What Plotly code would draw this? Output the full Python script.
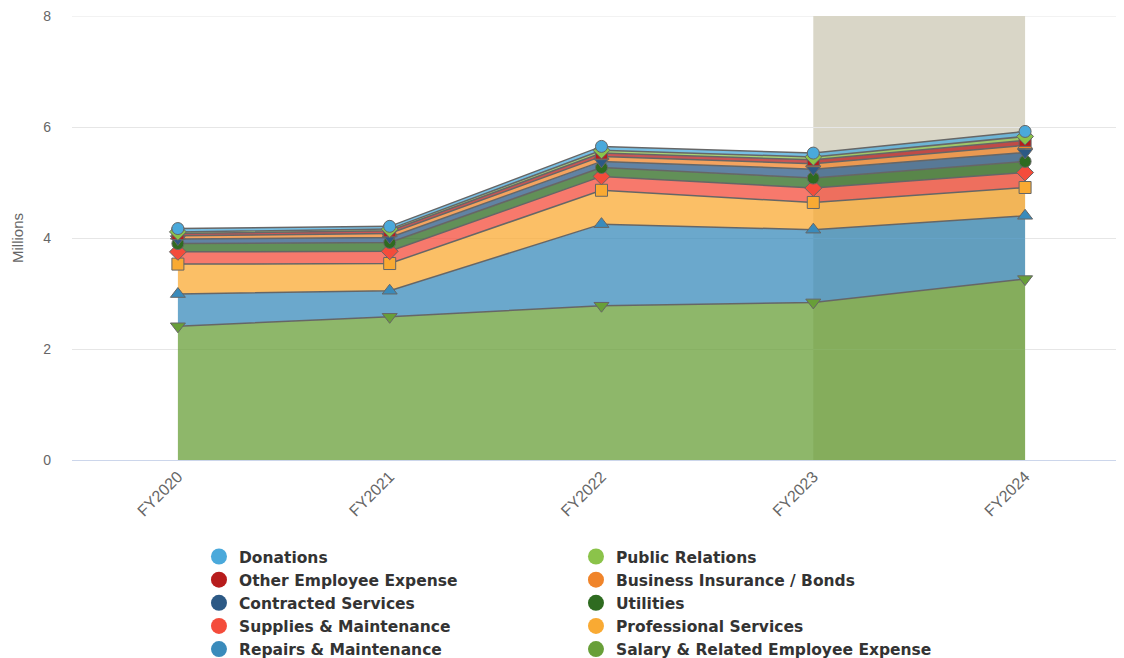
import plotly.graph_objects as go

years = ["FY2020", "FY2021", "FY2022", "FY2023", "FY2024"]

# Series (bottom of stack first), values in millions
salary = [2.41, 2.58, 2.78, 2.84, 3.26]
repairs = [0.58, 0.47, 1.47, 1.31, 1.14]
professional = [0.54, 0.49, 0.61, 0.49, 0.51]
supplies = [0.22, 0.22, 0.25, 0.26, 0.27]
utilities = [0.15, 0.16, 0.16, 0.18, 0.20]
contracted = [0.08, 0.09, 0.11, 0.16, 0.16]
business_ins = [0.06, 0.07, 0.09, 0.10, 0.13]
other_emp = [0.04, 0.05, 0.06, 0.07, 0.09]
public_rel = [0.03, 0.03, 0.05, 0.05, 0.07]
donations = [0.06, 0.05, 0.07, 0.07, 0.09]

names = ["Donations", "Public Relations", "Other Employee Expense",
         "Business Insurance / Bonds", "Contracted Services", "Utilities",
         "Supplies & Maintenance", "Professional Services",
         "Repairs & Maintenance", "Salary & Related Employee Expense"]
values = [donations, public_rel, other_emp, business_ins, contracted,
          utilities, supplies, professional, repairs, salary]
colors = ["#4aa9db", "#8bc34a", "#b71c1c", "#f0842a", "#2c5985",
          "#2e6b20", "#f44c3b", "#f9aa33", "#3a8bbb", "#689f38"]
symbols = ["circle", "diamond", "square", "triangle-up", "triangle-down",
           "circle", "diamond", "square", "triangle-up", "triangle-down"]
sizes = {"circle": 12, "diamond": 13, "square": 12,
         "triangle-up": 13, "triangle-down": 13}

y_ticks = [0, 2, 4, 6, 8]
band_start, band_end = 3, 4

def rgba(hexc, a):
    h = hexc.lstrip("#")
    r, g, b = int(h[0:2], 16), int(h[2:4], 16), int(h[4:6], 16)
    return f"rgba({r},{g},{b},{a})"

fig = go.Figure()
xs = list(range(len(years)))

# stacked areas, bottom first
for i in reversed(range(len(names))):
    fig.add_trace(go.Scatter(
        x=xs, y=values[i], name=names[i], stackgroup="one",
        mode="lines+markers",
        line=dict(color="#666666", width=1.5),
        fillcolor=rgba(colors[i], 0.75),
        marker=dict(symbol=symbols[i], size=sizes[symbols[i]], color=colors[i],
                    line=dict(color="#666666", width=1)),
        showlegend=False, hoverinfo="x+y+name"))

# legend entries
for i in range(len(names)):
    fig.add_trace(go.Scatter(
        x=[None], y=[None], name=names[i], mode="markers",
        marker=dict(symbol="circle", size=16, color=colors[i]),
        showlegend=True))

# plot band
fig.add_shape(type="rect", xref="x", yref="y", x0=band_start, x1=band_end,
              y0=y_ticks[0], y1=y_ticks[-1], fillcolor="#d9d6c7",
              line=dict(width=0), layer="below")
# top grid line at the axis maximum
fig.add_shape(type="line", xref="paper", yref="y", x0=0, x1=1,
              y0=y_ticks[-1], y1=y_ticks[-1],
              line=dict(color="#e6e6e6", width=1), layer="below")

# page body has an 8px margin, so the figure is 8px smaller than the window
fig.update_layout(
    width=1116, height=650,
    margin=dict(l=64, r=0, t=8, b=198, autoexpand=False),
    paper_bgcolor="white", plot_bgcolor="white",
    font=dict(family="Liberation Sans, Arial, sans-serif", color="#666666"),
    xaxis=dict(
        range=[-0.5, 4.467], tickmode="array", tickvals=xs, ticktext=years,
        tickangle=-45, tickfont=dict(size=16, color="#666666"),
        showgrid=False, showline=True, linecolor="#ccd6eb", linewidth=1,
        zeroline=False, ticks="", automargin=False),
    yaxis=dict(
        range=[y_ticks[0], y_ticks[-1]], tickvals=y_ticks,
        tickfont=dict(size=14, color="#666666"),
        gridcolor="#e6e6e6", gridwidth=1, zeroline=False, showline=False,
        ticklabelstandoff=20, automargin=False, ticklabeloverflow="allow",
        title=dict(text="Millions", font=dict(size=15, color="#666666"), standoff=15)),
    legend=dict(
        orientation="h", x=0.1207, xanchor="left", y=-0.180, yanchor="top",
        entrywidth=332, traceorder="normal",
        font=dict(size=15.5, color="#333333", weight="bold",
                  family="DejaVu Sans, sans-serif"),
        bgcolor="rgba(0,0,0,0)"),
    showlegend=True,
)

fig.write_html("out.html")
